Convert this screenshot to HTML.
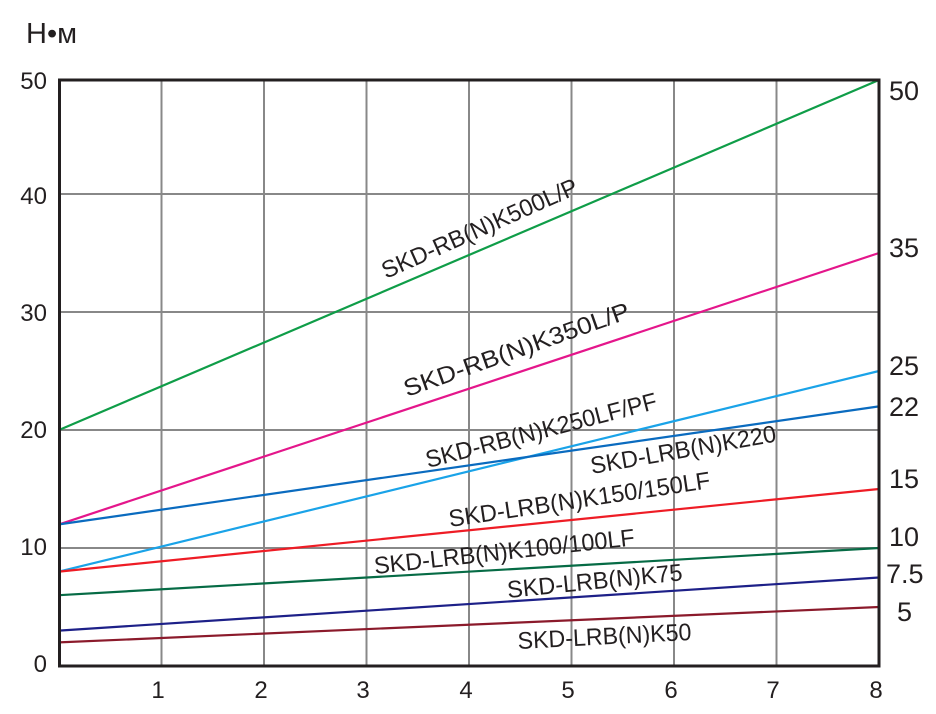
<!DOCTYPE html>
<html><head><meta charset="utf-8"><style>body{margin:0;background:#fff}svg{display:block}text{font-family:"Liberation Sans",Arial,sans-serif;fill:#231f20}</style></head>
<body>
<svg width="936" height="714" viewBox="0 0 936 714">
<text x="26" y="43" font-size="29">Н•м</text>
<g stroke="#888" stroke-width="2">
<line x1="161.5" y1="80" x2="161.5" y2="666"/><line x1="264" y1="80" x2="264" y2="666"/><line x1="366.5" y1="80" x2="366.5" y2="666"/><line x1="469" y1="80" x2="469" y2="666"/><line x1="571.5" y1="80" x2="571.5" y2="666"/><line x1="674" y1="80" x2="674" y2="666"/><line x1="776.5" y1="80" x2="776.5" y2="666"/>
<line x1="59" y1="548" x2="879" y2="548"/><line x1="59" y1="430" x2="879" y2="430"/><line x1="59" y1="312" x2="879" y2="312"/><line x1="59" y1="194" x2="879" y2="194"/>
</g>
<g stroke="#777" stroke-width="2" id="ticks"></g>
<script>
var g=document.getElementById('ticks'),s='';
for(var v=1;v<50;v++){if(v%10==0)continue;var y=666-11.8*v;s+='<line x1="59" x2="77" y1="'+y+'" y2="'+y+'"/>';}
g.innerHTML=s;
</script>
<g stroke-width="2.2" fill="none">
<line x1="59" y1="430" x2="879" y2="80" stroke="#0f9d48"/>
<line x1="59" y1="524.4" x2="879" y2="253" stroke="#e4168b"/>
<line x1="59" y1="571.6" x2="879" y2="371" stroke="#1aa3e8"/>
<line x1="59" y1="524.4" x2="879" y2="406.4" stroke="#0a6bbf"/>
<line x1="59" y1="571.6" x2="879" y2="489" stroke="#ee1c25"/>
<line x1="59" y1="595.2" x2="879" y2="548" stroke="#066b45"/>
<line x1="59" y1="630.6" x2="879" y2="577.5" stroke="#1d2088"/>
<line x1="59" y1="642.4" x2="879" y2="607" stroke="#8b1a2b"/>
</g>
<rect x="59.5" y="80" width="819.5" height="586" fill="none" stroke="#231f20" stroke-width="3"/>
<g font-size="24" text-anchor="end">
<text x="47" y="89">50</text><text x="47" y="204">40</text><text x="47" y="321">30</text><text x="47" y="438">20</text><text x="47" y="555">10</text><text x="47" y="672">0</text>
</g>
<g font-size="24" text-anchor="middle">
<text x="158" y="698">1</text><text x="261" y="698">2</text><text x="363" y="698">3</text><text x="466" y="698">4</text><text x="568" y="698">5</text><text x="671" y="698">6</text><text x="773" y="698">7</text><text x="876" y="698">8</text>
</g>
<g font-size="27">
<text x="889" y="100">50</text><text x="889" y="257">35</text><text x="889" y="375">25</text><text x="889" y="416">22</text><text x="889" y="488">15</text><text x="889" y="546">10</text><text x="886" y="583">7.5</text><text x="897" y="621">5</text>
</g>
<g font-size="24">
<text transform="translate(386,279) rotate(-24)" textLength="212" lengthAdjust="spacingAndGlyphs">SKD-RB(N)K500L/P</text>
<text transform="translate(407,397) rotate(-19.5)" textLength="238" lengthAdjust="spacingAndGlyphs">SKD-RB(N)K350L/P</text>
<text transform="translate(428,468) rotate(-14.5)" textLength="238" lengthAdjust="spacingAndGlyphs">SKD-RB(N)K250LF/PF</text>
<text transform="translate(592,474) rotate(-10)" textLength="188" lengthAdjust="spacingAndGlyphs">SKD-LRB(N)K220</text>
<text transform="translate(450,527) rotate(-8.5)" textLength="264" lengthAdjust="spacingAndGlyphs">SKD-LRB(N)K150/150LF</text>
<text transform="translate(375,574) rotate(-6.3)" textLength="262" lengthAdjust="spacingAndGlyphs">SKD-LRB(N)K100/100LF</text>
<text transform="translate(508,598) rotate(-5.8)" textLength="176" lengthAdjust="spacingAndGlyphs">SKD-LRB(N)K75</text>
<text transform="translate(518,649) rotate(-3)" textLength="174" lengthAdjust="spacingAndGlyphs">SKD-LRB(N)K50</text>
</g>
</svg>
</body></html>
